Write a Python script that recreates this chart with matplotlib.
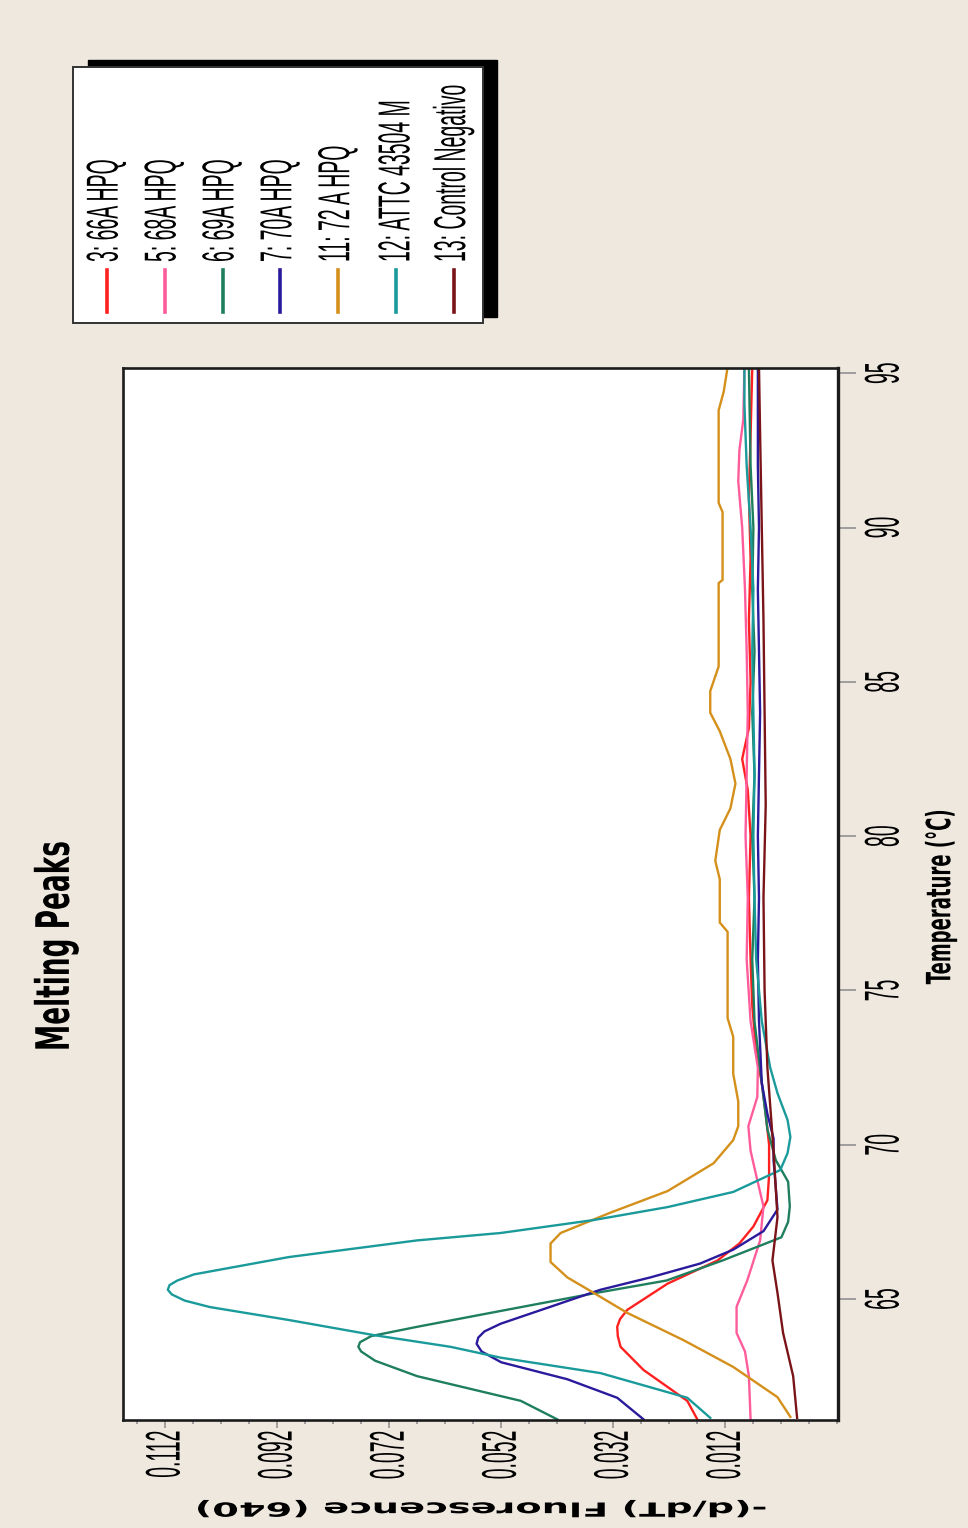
import matplotlib
matplotlib.use('Agg')
import numpy as np
import matplotlib.pyplot as plt
from matplotlib import patheffects
from matplotlib.transforms import Affine2D
from matplotlib.lines import Line2D
from matplotlib.patches import Rectangle
from matplotlib.ticker import MultipleLocator

# ---------------- data ----------------
title = "Melting Peaks"
x_label = "-(d/dT) Fluorescence (640)"
y_label = "Temperature (°C)"

series_names = ["3: 66A HPQ", "5: 68A HPQ", "6: 69A HPQ", "7: 70A HPQ",
                "11: 72 A HPQ", "12: ATTC 43504 M", "13: Control Negativo"]
series_colors = ["#ff2020", "#ff5c9c", "#1e7e5e", "#2a1a9c",
                 "#d4901a", "#1a9a9a", "#7a1418"]

fluor_ticks = [0.112, 0.092, 0.072, 0.052, 0.032, 0.012]
fluor_tick_labels = ["0.112", "0.092", "0.072", "0.052", "0.032", "0.012"]
temp_ticks = [65, 70, 75, 80, 85, 90, 95]
temp_tick_labels = ["65", "70", "75", "80", "85", "90", "95"]

t_66A = [61.1, 61.7, 62.7, 63.45, 63.8, 64.1, 64.35, 64.65, 65.5, 66.25, 66.8, 67.35, 68.2,
         69.0, 70.0, 71.0, 72.0, 73.0, 74.5, 76, 78, 80, 81.5, 82.5, 83.5, 85, 87, 89, 91,
         93, 95.2]
v_66A = [0.0170, 0.0188, 0.0266, 0.0307, 0.0312, 0.0313, 0.0308, 0.0295, 0.0223, 0.0134,
         0.0095, 0.0070, 0.0045, 0.0042, 0.0042, 0.0048, 0.0055, 0.0065, 0.0072, 0.0075,
         0.0078, 0.0075, 0.0080, 0.0090, 0.0078, 0.0075, 0.0078, 0.0075, 0.0078, 0.0075,
         0.0072]

t_68A = [61.1, 62.5, 63.3, 63.9, 64.75, 65.6, 66.9, 68.0, 68.85, 69.8, 70.6, 71.55, 72.5,
         74, 76, 78, 80, 82, 84, 86, 88, 90, 91.5, 92.5, 93.5, 95.2]
v_68A = [0.0075, 0.0078, 0.0085, 0.0100, 0.0100, 0.0081, 0.0058, 0.0052, 0.0063, 0.0075,
         0.0079, 0.0063, 0.0062, 0.0075, 0.0082, 0.0080, 0.0084, 0.0082, 0.0080, 0.0082,
         0.0085, 0.0090, 0.0097, 0.0095, 0.0088, 0.0086]

t_69A = [61.1, 61.7, 62.5, 63.0, 63.3, 63.45, 63.6, 63.8, 64.1, 64.6, 65.2, 65.6, 66.25,
         67.0, 67.5, 68.0, 68.8, 69.5, 70.5, 72, 74, 76, 78, 80, 82, 84, 86, 88, 90, 92, 95.2]
v_69A = [0.0420, 0.0485, 0.0670, 0.0745, 0.0770, 0.0775, 0.0772, 0.0752, 0.0670, 0.0525,
         0.0350, 0.0225, 0.0125, 0.0020, 0.0008, 0.0005, 0.0008, 0.0030, 0.0045, 0.0055,
         0.0068, 0.0072, 0.0068, 0.0072, 0.0068, 0.0072, 0.0068, 0.0072, 0.0070, 0.0075,
         0.0078]

t_70A = [61.1, 61.8, 62.4, 62.95, 63.3, 63.55, 63.75, 63.95, 64.2, 64.75, 65.3, 65.7, 66.15,
         66.6, 67.2, 67.9, 68.6, 69.5, 70.2, 71.0, 72, 74, 76, 78, 80, 82, 84, 86, 88, 90,
         92, 95.2]
v_70A = [0.0266, 0.0313, 0.0402, 0.0520, 0.0555, 0.0564, 0.0561, 0.0550, 0.0521, 0.0432,
         0.0343, 0.0254, 0.0165, 0.0106, 0.0052, 0.0027, 0.0030, 0.0034, 0.0034, 0.0045,
         0.0055, 0.0060, 0.0062, 0.0060, 0.0062, 0.0060, 0.0058, 0.0060, 0.0062, 0.0060,
         0.0062, 0.0062]

t_72A = [61.18, 61.82, 62.8, 63.67, 64.55, 65.2, 65.7, 66.2, 66.8, 67.14, 67.8, 68.5, 69.4,
         70.15, 70.6, 71.4, 72.3, 73.5, 74.1, 76.9, 77.2, 78.6, 79.2, 80.2, 80.9, 81.7, 82.5,
         83.4, 84.0, 84.7, 85.5, 88.2, 88.3, 90.5, 90.8, 93.8, 94.4, 95.2]
v_72A = [0.0004, 0.0027, 0.0106, 0.0195, 0.0295, 0.0355, 0.0402, 0.0432, 0.0432, 0.0414,
         0.0325, 0.0223, 0.0141, 0.0106, 0.0097, 0.0097, 0.0106, 0.0106, 0.0116, 0.0116,
         0.0130, 0.0130, 0.0138, 0.0130, 0.0111, 0.0102, 0.0111, 0.0130, 0.0147, 0.0147,
         0.0132, 0.0132, 0.0125, 0.0125, 0.0132, 0.0132, 0.0123, 0.0116]

t_ATTC = [61.15, 61.8, 62.6, 63.1, 63.45, 63.83, 64.32, 64.74, 64.95, 65.15, 65.3, 65.45,
          65.6, 65.8, 66.36, 66.9, 67.14, 67.56, 67.98, 68.47, 69.18, 69.73, 70.25, 70.8,
          71.67, 72.5, 74, 76, 78, 80, 82, 84, 86, 88, 90, 92, 94, 95.2]
v_ATTC = [0.0147, 0.0188, 0.0343, 0.0521, 0.0610, 0.0747, 0.0899, 0.1040, 0.1085, 0.1108,
          0.1115, 0.1112, 0.1098, 0.1068, 0.0899, 0.0670, 0.0521, 0.0355, 0.0223, 0.0106,
          0.0022, 0.0009, 0.0004, 0.0009, 0.0027, 0.0040, 0.0055, 0.0065, 0.0068, 0.0070,
          0.0068, 0.0070, 0.0072, 0.0070, 0.0075, 0.0082, 0.0086, 0.0086]

t_neg = [61.15, 62.5, 63.9, 65.2, 66.25, 67.65, 69.8, 72.5, 75, 78, 81, 84, 87, 90, 93, 95.2]
v_neg = [-0.0008, -0.0001, 0.0017, 0.0027, 0.0036, 0.0027, 0.0034, 0.0045, 0.0050, 0.0052,
         0.0048, 0.0050, 0.0052, 0.0055, 0.0058, 0.0060]

series_temps = [t_66A, t_68A, t_69A, t_70A, t_72A, t_ATTC, t_neg]
series_values = [v_66A, v_68A, v_69A, v_70A, v_72A, v_ATTC, v_neg]

# ---------------- layout helpers ----------------
W, H = 968, 1528
BG = '#efe8df'


def fx(px):
    return px / W


def fy(py):
    return 1 - py / H


class StretchX(patheffects.AbstractPathEffect):
    """Widen rendered glyphs horizontally (about the text centre)."""

    def __init__(self, factor):
        super().__init__()
        self.factor = factor

    def draw_path(self, renderer, gc, tpath, affine, rgbFace=None):
        ext = tpath.get_extents(affine)
        cx = 0.5 * (ext.x0 + ext.x1)
        if not np.isfinite(cx):
            cx = 0.0
        t = affine + Affine2D().translate(-cx, 0).scale(self.factor, 1).translate(cx, 0)
        renderer.draw_path(gc, tpath, t, rgbFace)


fig = plt.figure(figsize=(W / 100, H / 100), dpi=100, facecolor=BG)

ax = fig.add_axes([fx(123), fy(1420), fx(838) - fx(123), fy(368) - fy(1420)])
ax.set_facecolor('white')

for temps, vals, col in zip(series_temps, series_values, series_colors):
    ax.plot(vals, temps, color=col, lw=1.7, solid_joinstyle='round')

ax.set_xlim(0.1195, -0.0081)
ax.set_ylim(61.08, 95.17)

for sp in ax.spines.values():
    sp.set_linewidth(1.9)
    sp.set_color('#1c1c1c')
ax.spines['right'].set_linewidth(2.4)

tick_font = dict(family=['Liberation Sans', 'DejaVu Sans'], size=14)
ax.set_xticks(fluor_ticks)
ax.set_xticklabels(fluor_tick_labels, rotation=90, fontdict=tick_font)
ax.xaxis.set_minor_locator(MultipleLocator(0.005, offset=0.002))
ax.tick_params(axis='x', which='major', direction='out', length=6, width=1.1,
               color='#8a8a8a', pad=1.5)
ax.tick_params(axis='x', which='minor', direction='out', length=3, width=1.1,
               color='#8a8a8a')

ax.yaxis.tick_right()
ax.set_yticks(temp_ticks)
ax.set_yticklabels(temp_tick_labels, rotation=90, fontdict=tick_font)
ax.tick_params(axis='y', which='major', direction='out', length=13, width=1.1,
               color='#8a8a8a', pad=14)
for lbl in ax.get_yticklabels():
    lbl.set_va('center')
    lbl.set_path_effects([StretchX(2.5)])
for lbl in ax.get_xticklabels():
    lbl.set_path_effects([StretchX(2.5)])

# axis labels
ax.set_xlabel(x_label, rotation=180, fontsize=14, fontweight='bold',
              family=['DejaVu Sans'])
ax.xaxis.label.set_ha('center')
ax.xaxis.label.set_va('center')
ax.xaxis.label.set_rotation_mode('default')
ax.xaxis.set_label_coords((481 - 123) / 715, (1420 - 1508) / 1052)
ax.xaxis.label.set_path_effects([StretchX(1.97)])

ax.yaxis.set_label_position('right')
ax.set_ylabel(y_label, rotation=90, fontsize=13, fontweight='bold',
              family=['DejaVu Sans'])
ax.yaxis.label.set_ha('center')
ax.yaxis.label.set_va('center')
ax.yaxis.label.set_rotation_mode('default')
ax.yaxis.set_label_coords((941 - 123) / 715, (1420 - 897) / 1052)
ax.yaxis.label.set_path_effects([StretchX(1.85)])

# title
fig.text(fx(56.5), fy(946), title, rotation=90, ha='center', va='center',
         fontsize=19, fontweight='bold', family=['DejaVu Sans'],
         path_effects=[StretchX(1.75)])

# legend (rotated, drawn manually)
fig.patches.append(Rectangle((fx(88), fy(317)), fx(497) - fx(88), fy(60) - fy(317),
                             transform=fig.transFigure, facecolor='black',
                             edgecolor='black', zorder=1))
fig.patches.append(Rectangle((fx(73), fy(323)), fx(483) - fx(73), fy(67) - fy(323),
                             transform=fig.transFigure, facecolor='white',
                             edgecolor='#333333', lw=1.4, zorder=2))
for i, (name, col) in enumerate(zip(series_names, series_colors)):
    xc = 106.7 + i * 57.9
    fig.lines.append(Line2D([fx(xc), fx(xc)], [fy(270), fy(312)],
                            transform=fig.transFigure, color=col, lw=2.6, zorder=3))
    fig.text(fx(xc), fy(262), name, rotation=90, ha='center', va='bottom',
             fontsize=14, family=['Liberation Sans', 'DejaVu Sans'],
             path_effects=[StretchX(2.3)], zorder=4)

fig.savefig('out.png', dpi=100, facecolor=BG)
